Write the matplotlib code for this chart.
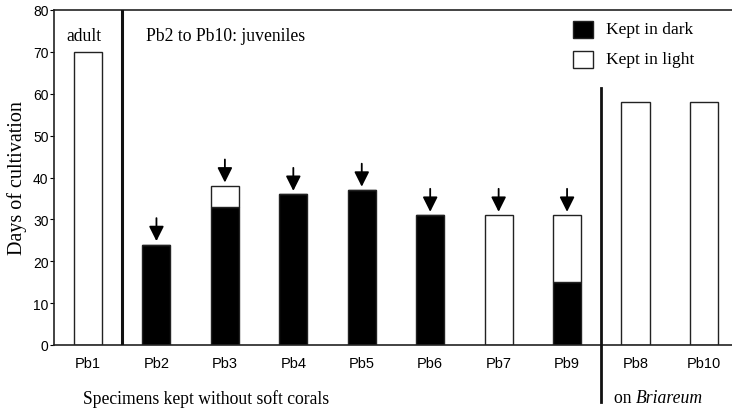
import matplotlib
matplotlib.use("Agg")
import matplotlib.pyplot as plt
from matplotlib.patches import Rectangle
from matplotlib.transforms import offset_copy

# Specimens and days of cultivation (dark / light portions)
specimens = ["Pb1", "Pb2", "Pb3", "Pb4", "Pb5", "Pb6", "Pb7", "Pb9", "Pb8", "Pb10"]
days_dark = [0, 24, 33, 36, 37, 31, 0, 15, 0, 0]
days_light = [70, 0, 5, 0, 0, 0, 31, 16, 58, 58]
# specimens marked with an arrow (index into specimens)
arrow_marks = [1, 2, 3, 4, 5, 6, 7]
legend_labels = ["Kept in dark", "Kept in light"]
legend_colors = ["black", "white"]

serif = "Liberation Serif"
sans = "Liberation Sans"
W, H = 732, 410

fig = plt.figure(figsize=(W / 100, H / 100), dpi=100)
ax = fig.add_axes([54 / W, 64 / H, 678 / W, 335 / H])

x = list(range(len(specimens)))
width = 0.41
ax.bar(x, days_dark, width, color="black", edgecolor="#222222", linewidth=1.0, zorder=2)
ax.bar(x, days_light, width, bottom=days_dark, color="white", edgecolor="#222222",
       linewidth=1.0, zorder=2)

totals = [d + l for d, l in zip(days_dark, days_light)]
for i in arrow_marks:
    top = totals[i]
    ax.annotate("", xy=(i, top + 0.8), xytext=(i, top + 6.3),
                arrowprops=dict(arrowstyle="-|>,head_length=0.6,head_width=0.3",
                                color="black", lw=1.3, mutation_scale=15,
                                shrinkA=0, shrinkB=0))

ax.set_xlim(-0.497, 9.41)
ax.set_ylim(0, 80)
ax.set_xticks(x)
ax.set_xticklabels(specimens, fontfamily=sans, fontsize=10.5)
for lab in ax.get_xticklabels():
    lab.set_transform(offset_copy(lab.get_transform(), fig=fig, x=5, y=0, units="dots"))
ax.set_yticks(range(0, 81, 10))
ax.set_yticklabels([str(v) for v in range(0, 81, 10)], fontfamily=sans, fontsize=10)
ax.tick_params(axis="x", length=0, pad=8)
ax.tick_params(axis="y", direction="out", length=3, pad=1)
ax.spines["right"].set_visible(False)
for s in ("left", "bottom", "top"):
    ax.spines[s].set_linewidth(1.2)
    ax.spines[s].set_color("#222222")

ax.set_ylabel("Days of cultivation", fontfamily=serif, fontsize=14.5, labelpad=4)

# group separators
ax.axvline(0.5, ymin=0, ymax=1, color="#111111", lw=2.2, zorder=3)
ax.plot([7.5, 7.5], [61.3, -13.5], color="#111111", lw=2.0, clip_on=False, zorder=3)

ax.text(-0.06, 74, "adult", fontfamily=serif, fontsize=12.7, ha="center", va="center")
ax.text(0.85, 74, "Pb2 to Pb10: juveniles", fontfamily=serif, fontsize=12.7,
        ha="left", va="center")

fig.text(83 / W, 1 - 399 / H, "Specimens kept without soft corals",
         fontfamily=serif, fontsize=12.7, ha="left", va="center")
t_on = fig.text(614 / W, 1 - 399 / H, "on ", fontfamily=serif, fontsize=12.7,
                ha="left", va="center")
fig.canvas.draw()
bb = t_on.get_window_extent()
fig.text(bb.x1 / W, 1 - 399 / H, "Briareum", fontfamily=serif, fontstyle="italic",
         fontsize=12.7, ha="left", va="center")

# legend keys
for k, (lbl, col) in enumerate(zip(legend_labels, legend_colors)):
    yc = 30 + 30.5 * k
    fig.patches.append(Rectangle((573 / W, 1 - (yc + 8.5) / H), 20 / W, 17 / H,
                                 facecolor=col, edgecolor="#222222", linewidth=1.0,
                                 transform=fig.transFigure, figure=fig))
    fig.text(606 / W, 1 - yc / H, lbl, fontfamily=serif, fontsize=12.5,
             ha="left", va="center")

fig.savefig("out.png", dpi=100)
